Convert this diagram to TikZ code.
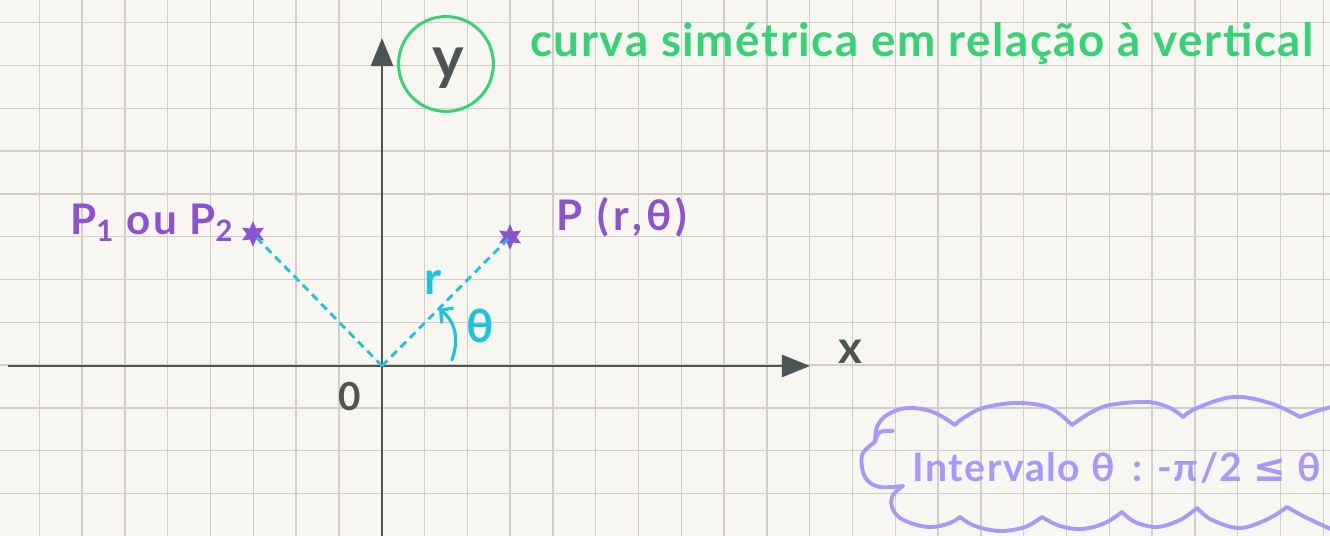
\documentclass[tikz,border=0pt]{standalone}
\usepackage{fontspec}
\setmainfont{Lato}
\newfontfamily\djv{DejaVu Sans}
\newfontfamily\handA[LetterSpace=3.5]{Lato}
\newfontfamily\handB[LetterSpace=5]{Lato}
\newfontfamily\handC[LetterSpace=11]{Lato}
\newfontfamily\handD[LetterSpace=4]{Lato}
\usetikzlibrary{arrows.meta,shapes.geometric}
\definecolor{paper}{RGB}{248,246,241}
\definecolor{gridc}{RGB}{210,205,198}
\definecolor{axisc}{RGB}{74,85,84}
\definecolor{greenc}{RGB}{52,211,115}
\definecolor{purplec}{RGB}{140,82,210}
\definecolor{cyanc}{RGB}{28,196,224}
\definecolor{lavc}{RGB}{168,152,250}
\tikzset{
  gridline/.style={draw=gridc,line width=0.8pt},
  axisline/.style={draw=axisc,line width=1.7pt,-{Triangle[length=16pt,width=12.5pt]}},
  radius line/.style={draw=cyanc,line width=1.6pt,dash pattern=on 4.5pt off 3pt},
  starnode/.style={star,star points=6,star point ratio=2,fill=purplec,draw=purplec,line width=1pt,minimum size=12pt,inner sep=0pt},
  greentxt/.style={text=greenc,font=\handA\bfseries\fontsize{26}{30}\selectfont,inner sep=0pt},
  purptxt/.style={text=purplec,font=\handB\bfseries\fontsize{24}{28}\selectfont,inner sep=0pt},
  cyantxt/.style={text=cyanc,font=\bfseries\fontsize{26}{30}\selectfont,inner sep=0pt},
  darktxt/.style={text=axisc,font=\bfseries\fontsize{22}{26}\selectfont,inner sep=0pt},
  lavtxt/.style={text=lavc,font=\handD\bfseries\fontsize{22.3}{26}\selectfont,inner sep=0pt},
  cloudline/.style={draw=lavc,line width=2.2pt,line cap=round,line join=round},
}
\begin{document}
\begin{tikzpicture}[x=0.02cm,y=-0.02cm]
\useasboundingbox (0,0) rectangle (1330,536);
\clip (0,0) rectangle (1330,536);
\fill[paper] (0,0) rectangle (1330,536);
% grid
\foreach \i in {0,...,30} \draw[gridline] ({39.3+42.8*\i},0) -- ({39.3+42.8*\i},536);
\foreach \j in {0,...,11} \draw[gridline] (0,{22.7+42.8*\j}) -- (1330,{22.7+42.8*\j});
% axes
\coordinate (O) at (382,366);
\coordinate (xs) at (8,366);
\coordinate (xe) at (810,366);
\coordinate (ys) at (382,540);
\coordinate (ye) at (382,38);
\draw[axisline] (xs) -- (xe);
\draw[axisline] (ys) -- (ye);
% axis labels
\node[darktxt,font=\bfseries\fontsize{26}{30}\selectfont] (xl) at (850,352) {x};
\node[darktxt] (zero) at (350,397) {0};
\node[draw=greenc,line width=1.7pt,circle,inner sep=0pt,minimum size=54pt] (ycirc) at (446,64) {};
\node[darktxt,font=\bfseries\fontsize{34}{38}\selectfont] (yl) at (448,68) {y};
% title
\node[greentxt,anchor=base west] (title) at (530,57) {curva simétrica em relação à vertical};
% points
\node[starnode] (P2) at (253,234) {};
\node[starnode] (P) at (510,237) {};
\draw[radius line] (O) -- (P2.center);
\draw[radius line] (O) -- (P.center);
\node[purptxt,anchor=base west] (p2lab) at (70,235) {P\textsubscript{1} ou P\textsubscript{2}};
\node[purptxt,font=\handC\bfseries\fontsize{24}{28}\selectfont,anchor=base west] (plab) at (556,231) {P (r,θ)};
% r and theta
\node[cyantxt] (rl) at (433,283) {r};
\node[cyantxt] (th) at (480,326) {θ};
\coordinate (arcs) at (452,360);
\coordinate (arce) at (439,309);
\draw[draw=cyanc,line width=1.8pt,line cap=round,-{Straight Barb[length=5pt,width=11pt]}] (arcs) .. controls (459,340) and (456,322) .. (arce);
% cloud
\draw[cloudline] plot[smooth,tension=0.6] coordinates {(893,431) (880,432) (875,442)};
\draw[cloudline] plot[smooth,tension=0.6] coordinates {(875,442) (877,427) (887,415) (907,408) (933,412) (955,425)};
\draw[cloudline] plot[smooth,tension=0.6] coordinates {(955,425) (962,419) (983,408) (1017,403) (1050,408) (1072,425)};
\draw[cloudline] plot[smooth,tension=0.6] coordinates {(1072,425) (1090,413) (1110,405) (1147,402) (1170,408) (1183,417)};
\draw[cloudline] plot[smooth,tension=0.6] coordinates {(1183,417) (1197,408) (1233,397) (1270,403) (1300,417)};
\draw[cloudline] plot[smooth,tension=0.6] coordinates {(1300,417) (1317,411) (1335,406)};
\draw[cloudline] plot[smooth,tension=0.6] coordinates {(875,442) (863,453) (862,467) (867,480) (880,487) (903,486)};
\draw[cloudline] plot[smooth,tension=0.6] coordinates {(903,486) (893,495) (892,507) (900,518) (917,525) (933,527) (950,523) (960,517)};
\draw[cloudline] plot[smooth,tension=0.6] coordinates {(960,517) (975,526) (1000,531) (1025,527) (1042,517)};
\draw[cloudline] plot[smooth,tension=0.6] coordinates {(1042,517) (1060,526) (1082,529) (1105,523) (1122,512)};
\draw[cloudline] plot[smooth,tension=0.6] coordinates {(1122,512) (1135,522) (1157,527) (1180,520) (1197,508)};
\draw[cloudline] plot[smooth,tension=0.6] coordinates {(1197,508) (1212,520) (1240,528) (1268,519) (1287,507)};
\draw[cloudline] plot[smooth,tension=0.6] coordinates {(1287,507) (1305,517) (1335,531)};
\node[lavtxt,anchor=base west] (interval) at (912,482) {Intervalo θ\, : -π/2 {\djv\bfseries ≤} θ};
\end{tikzpicture}
\end{document}
